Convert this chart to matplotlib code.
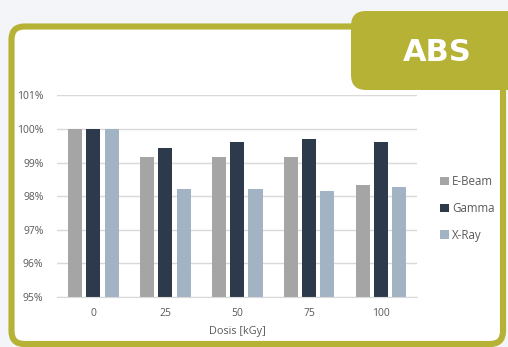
import matplotlib
matplotlib.use("Agg")
import matplotlib.pyplot as plt
import numpy as np
from matplotlib.patches import FancyBboxPatch

categories = ["0", "25", "50", "75", "100"]
ebeam = [100.0, 99.17, 99.17, 99.16, 98.32]
gamma = [100.0, 99.44, 99.61, 99.69, 99.61]
xray = [100.0, 98.20, 98.22, 98.15, 98.27]
series_names = ["E-Beam", "Gamma", "X-Ray"]
yticks = [95, 96, 97, 98, 99, 100, 101]

W, H = 508, 347
fig = plt.figure(figsize=(W / 100, H / 100), dpi=100)
fig.patch.set_facecolor("#F3F5F8")
plt.rcParams['font.family'] = ['Open Sans', 'DejaVu Sans']

# background frame axes in pixel coordinates
bg = fig.add_axes([0, 0, 1, 1], zorder=0)
bg.set_xlim(0, W)
bg.set_ylim(H, 0)
bg.axis("off")
olive = "#B5B235"
frame = FancyBboxPatch((11.5, 26.5), 503 - 11.5, 344 - 26.5,
                       boxstyle="round,pad=0,rounding_size=13",
                       facecolor="white", edgecolor=olive, linewidth=4.4)
bg.add_patch(frame)
tab = FancyBboxPatch((351, 11), 180, 79,
                     boxstyle="round,pad=0,rounding_size=15",
                     facecolor=olive, edgecolor="none")
bg.add_patch(tab)
bg.text(437, 52, "ABS", color="white", fontsize=22, fontweight="bold",
        family="DejaVu Sans", ha="center", va="center")

ax = fig.add_axes([57.3 / W, 1 - 297 / H, (417 - 57.3) / W, (297 - 95.3) / H], zorder=1)
ax.patch.set_alpha(0)
x = np.arange(len(categories))
colors = ["#A5A5A5", "#2C3A4B", "#A2B3C4"]
width = 0.195
step = 0.255
for i, (vals, name, c) in enumerate(zip([ebeam, gamma, xray], series_names, colors)):
    ax.bar(x + (i - 1) * step, np.array(vals) - 95, width, bottom=95, color=c,
           label=name, zorder=2)

ax.set_xlim(-0.5, len(categories) - 0.5)
ax.set_ylim(95, 101)
ax.set_yticks(yticks)
ax.set_yticklabels([f"{v}%" for v in yticks])
ax.set_xticks(x)
ax.set_xticklabels(categories)
ax.grid(axis="y", color="#D9D9D9", linewidth=1, zorder=0)
for s in ["top", "right", "left"]:
    ax.spines[s].set_visible(False)
ax.spines["bottom"].set_color("#D9D9D9")
ax.tick_params(length=0, colors="#595959", labelsize=7.5)
ax.tick_params(axis="x", pad=8)
ax.tick_params(axis="y", pad=10)
ax.set_xlabel("Dosis [kGy]", color="#595959", fontsize=7.8, labelpad=5)

leg = ax.legend(loc="center left", bbox_to_anchor=(1.035, 0.44), frameon=False,
                fontsize=8.3, handlelength=0.75, handleheight=0.75,
                handletextpad=0.3, labelspacing=1.2, labelcolor="#595959")

fig.savefig("out.png", dpi=100, facecolor=fig.get_facecolor())
